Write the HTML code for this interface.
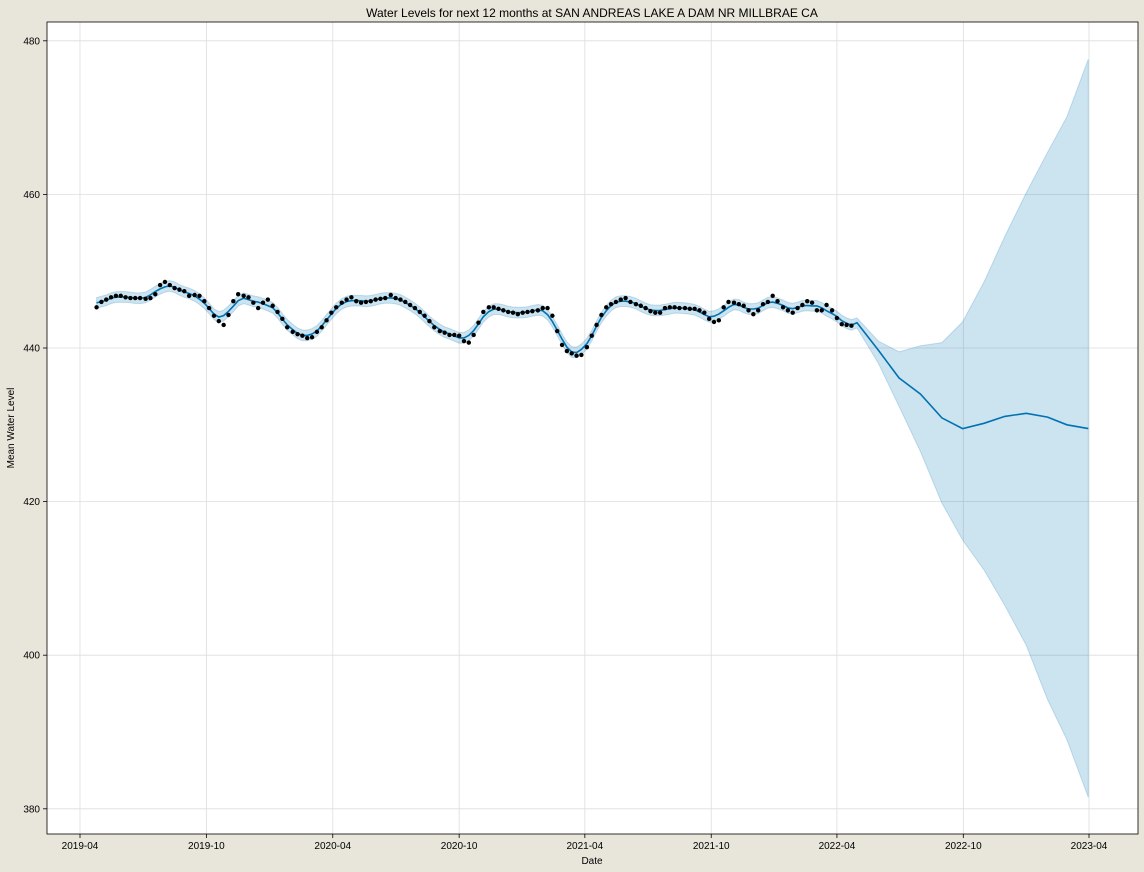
<!DOCTYPE html>
<html><head><meta charset="utf-8"><style>
html,body{margin:0;padding:0;background:#e8e5da;}
svg{display:block;font-family:"Liberation Sans",sans-serif;}
</style></head><body>
<svg id="chart" width="1144" height="872" viewBox="0 0 1144 872" xmlns="http://www.w3.org/2000/svg">
<rect x="0" y="0" width="1144" height="872" fill="#e8e5da"/>
<rect x="47" y="22" width="1091" height="812" fill="#ffffff"/>
<g id="grid"></g>
<g id="marks"></g>
<rect x="47" y="22" width="1091" height="812" fill="none" stroke="#000" stroke-width="0.8"/>
<g id="axes"></g>
<text x="592" y="17" text-anchor="middle" font-size="12">Water Levels for next 12 months at SAN ANDREAS LAKE A DAM NR MILLBRAE CA</text>
<text x="592" y="864" text-anchor="middle" font-size="10">Date</text>
<text x="14" y="428" text-anchor="middle" font-size="10" transform="rotate(-90 14 428)">Mean Water Level</text>
</svg>
<script>
const obsStart = "2019-04-25";
const obsStepDays = 7.1;
const observed = [445.3,446.0,446.3,446.6,446.8,446.8,446.6,446.5,446.5,446.5,446.4,446.5,447.0,448.2,448.6,448.2,447.8,447.6,447.4,446.8,446.9,446.8,446.1,445.2,444.2,443.5,443.0,444.3,446.1,447.0,446.8,446.6,445.9,445.2,445.9,446.3,445.5,444.7,443.8,442.7,442.1,441.8,441.6,441.3,441.4,442.1,442.7,443.6,444.6,445.3,445.9,446.3,446.6,446.1,445.9,446.0,446.1,446.3,446.4,446.5,446.9,446.5,446.3,446.0,445.6,445.2,444.7,444.2,443.5,442.7,442.2,442.0,441.7,441.7,441.6,440.9,440.7,441.7,443.3,444.7,445.3,445.3,445.1,444.9,444.7,444.6,444.4,444.6,444.7,444.8,444.9,445.2,445.2,444.2,442.2,440.4,439.6,439.3,439.0,439.1,440.1,441.6,443.0,444.3,445.3,445.7,446.0,446.3,446.5,446.0,445.7,445.5,445.2,444.8,444.6,444.6,445.2,445.3,445.3,445.2,445.2,445.1,445.1,444.9,444.6,443.8,443.4,443.6,445.3,446.0,445.9,445.7,445.5,444.9,444.4,444.9,445.7,446.0,446.8,446.1,445.3,444.9,444.6,445.2,445.6,446.1,445.9,444.9,444.9,445.6,444.9,443.9,443.1,443.0,442.9];
const fcDates = ["2022-04-30","2022-05-31","2022-06-30","2022-07-31","2022-08-31","2022-09-30","2022-10-31","2022-11-30","2022-12-31","2023-01-31","2023-02-28","2023-03-31"];
const fcYhat = [443.3,439.7,436.1,434.0,430.9,429.5,430.2,431.1,431.5,431.0,430.0,429.5];
const fcUpper = [443.9,440.9,439.5,440.3,440.7,443.4,448.6,454.5,460.2,465.5,470.1,477.6];
const fcLower = [442.6,438.0,432.4,426.5,419.8,415.0,411.1,406.5,401.3,394.2,389.0,381.5];
const yTicks = [380,400,420,440,460,480];
const xTicks = ["2019-04","2019-10","2020-04","2020-10","2021-04","2021-10","2022-04","2022-10","2023-04"];

const NS="http://www.w3.org/2000/svg";
const t0=Date.parse("2019-04-01"), t1=Date.parse("2023-04-01");
function xs(d){return 80+(Date.parse(d)-t0)/(t1-t0)*1009;}
function ys(v){return 348-(v-440)*7.68;}
function mk(tag,attrs,parent){const e=document.createElementNS(NS,tag);for(const k in attrs)e.setAttribute(k,attrs[k]);parent.appendChild(e);return e;}
const grid=document.getElementById('grid'),marks=document.getElementById('marks'),axes=document.getElementById('axes');

yTicks.forEach(v=>{
  const y=ys(v);
  const g=mk('line',{x1:47,x2:1138,y1:y,y2:y,stroke:'#dddddd','stroke-width':0.8},grid);
  
  
  const tk=mk('line',{x1:43,x2:47,y1:y,y2:y,stroke:'#000','stroke-width':0.8},axes);
  
  
  const t=mk('text',{x:40,y:y+3.5,'text-anchor':'end','font-size':10},axes);
  t.textContent=v;
  
  
});
xTicks.forEach(m=>{
  const x=xs(m+"-01");
  const g=mk('line',{x1:x,x2:x,y1:22,y2:834,stroke:'#dddddd','stroke-width':0.8},grid);
  
  
  const tk=mk('line',{x1:x,x2:x,y1:834,y2:838,stroke:'#000','stroke-width':0.8},axes);
  
  
  const t=mk('text',{x:x,y:849,'text-anchor':'middle','font-size':10},axes);
  t.textContent=m;
  
  
});

const s0=Date.parse(obsStart);
const obsDates=observed.map((_,i)=>new Date(s0+i*obsStepDays*86400000).toISOString().slice(0,10));
const fit=observed.map((_,i)=>{let s=0,c=0;for(let k=-2;k<=2;k++){const j=i+k;if(j>=0&&j<observed.length){s+=observed[j];c++;}}return s/c;});
const allD=obsDates.concat(fcDates);
const allY=fit.concat(fcYhat);
const allU=fit.map(v=>v+0.7).concat(fcUpper);
const allL=fit.map(v=>v-0.7).concat(fcLower);

let up=allD.map((d,i)=>xs(d).toFixed(1)+","+ys(allU[i]).toFixed(1));
let lo=allD.map((d,i)=>xs(d).toFixed(1)+","+ys(allL[i]).toFixed(1)).reverse();
const band=mk('polygon',{points:up.concat(lo).join(" "),fill:'#0072b2','fill-opacity':0.2,stroke:'#0072b2','stroke-opacity':0.2,'stroke-width':1},marks);



const line=mk('polyline',{points:allD.map((d,i)=>xs(d).toFixed(1)+","+ys(allY[i]).toFixed(1)).join(" "),fill:'none',stroke:'#0072b2','stroke-width':1.6},marks);



observed.forEach((v,i)=>{
  const c=mk('circle',{cx:xs(obsDates[i]),cy:ys(v),r:2.2,fill:'#000'},marks);
  
  
});
</script>
</body></html>
